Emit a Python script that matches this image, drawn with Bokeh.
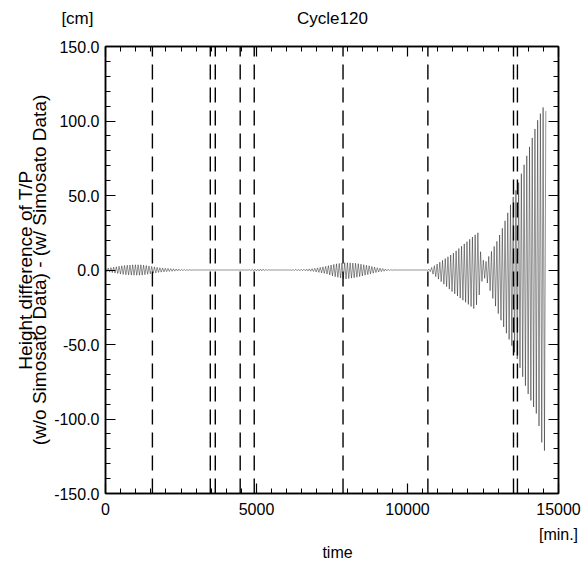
import numpy as np
from bokeh.plotting import figure
from bokeh.layouts import column
from bokeh.models import (Range1d, LinearAxis, FixedTicker, NumeralTickFormatter,
                          ColumnDataSource)
from bokeh.core.properties import value
from bokeh.embed import file_html
from bokeh.resources import INLINE

# ---- data ----
title_text = "Cycle120"
y_unit_text = "[cm]"
x_unit_text = "[min.]"
x_title = "time"
y_title_1 = "Height difference of T/P"
y_title_2 = "(w/o Simosato Data) - (w/ Simosato Data)"
x_ticks = [0, 5000, 10000, 15000]
y_ticks = [-150, -100, -50, 0, 50, 100, 150]

# times (min.) of the dashed vertical markers
marker_times = [1553, 3470, 3635, 4460, 4925, 7865, 10675, 13510, 13640]

# oscillation envelope knots: time, upper amplitude, lower amplitude (cm)
env_t = [0, 300, 600, 900, 1200, 1500, 1800, 2100, 2500, 2900,
         4700, 4900, 5200, 5500, 6100, 6300, 6600, 6900, 7300, 7600,
         7950, 8300, 8700, 9000, 9300, 9600,
         10650, 10750, 11500, 12200, 12330, 12450, 12580, 12980, 13180,
         13480, 13640, 13970, 14300, 14480, 14570, 14600]
env_up = [1.0, 2.0, 3.0, 3.5, 3.5, 2.5, 1.5, 1.0, 0.5, 0.0,
          0.0, 0.6, 0.6, 0.0, 0.0, 0.5, 0.5, 1.0, 2.5, 4.0,
          5.0, 4.5, 3.0, 1.5, 0.6, 0.0,
          0.0, 1.0, 11.0, 23.0, 25.0, 8.0, 5.0, 20.0, 30.0,
          48.0, 56.0, 78.0, 100.0, 109.0, 110.0, 100.0]
env_lo = [1.0, 2.0, 3.0, 3.5, 3.5, 2.5, 1.5, 1.0, 0.5, 0.0,
          0.0, 0.6, 0.6, 0.0, 0.0, 0.5, 0.5, 1.0, 2.5, 4.5,
          6.0, 5.0, 3.0, 1.5, 0.6, 0.0,
          0.0, 1.0, 15.0, 26.0, 22.0, 8.0, 5.0, 28.0, 38.0,
          52.0, 60.0, 82.0, 98.0, 120.0, 122.0, 110.0]
half_period = 45  # min., spacing of successive oscillation extremes
t_end = 14600

# ---- build oscillating trace from the envelope ----
tk = np.arange(0, t_end + 1, half_period)
up = np.interp(tk, env_t, env_up)
lo = np.interp(tk, env_t, env_lo)
vals = np.where(np.arange(len(tk)) % 2 == 0, up, -lo)
src = ColumnDataSource(dict(t=tk, v=vals))

FONT = "Liberation Sans"
W = 583
HEAD_H = 36
FOOT_H = 26
MAIN_H = 571 - HEAD_H - FOOT_H          # 509
FRAME_L, FRAME_R = 105, 558             # frame edges in page pixels


def bare_axis(ax):
    ax.major_tick_in = 0
    ax.major_tick_out = 0
    ax.minor_tick_in = 0
    ax.minor_tick_out = 0
    ax.axis_line_color = None
    ax.major_label_text_font = FONT
    ax.major_label_text_color = "black"


def text_strip(h):
    f = figure(width=W, height=h, output_backend="svg", toolbar_location=None,
               x_range=Range1d(FRAME_L, FRAME_R), y_range=Range1d(h, 0),
               min_border_left=FRAME_L, min_border_right=W - FRAME_R,
               min_border_top=0, min_border_bottom=0,
               x_axis_location=None, y_axis_location=None)
    f.grid.visible = False
    f.outline_line_color = None
    f.background_fill_color = "white"
    f.border_fill_color = "white"
    return f


# ---- header: "[cm]" (left of the frame) and the title ----
head = text_strip(HEAD_H)
hl = LinearAxis()
bare_axis(hl)
hl.ticker = FixedTicker(ticks=[18], minor_ticks=[])
hl.major_label_overrides = {18: y_unit_text}
hl.major_label_text_font_size = "17px"
hl.major_label_standoff = 12
head.add_layout(hl, "left")
head.text(x=[332], y=[18], text=[title_text],
          text_font=value(FONT), text_font_size="17px", text_color="black",
          text_align="center", text_baseline="middle")

# ---- main plot ----
p = figure(width=W, height=MAIN_H, output_backend="svg", toolbar_location=None,
           x_range=Range1d(0, 15000), y_range=Range1d(-150, 150),
           min_border_left=FRAME_L, min_border_right=W - FRAME_R,
           min_border_top=46 - HEAD_H, min_border_bottom=MAIN_H + HEAD_H - 494,
           x_axis_location=None, y_axis_location=None)
p.grid.visible = False
p.outline_line_color = "black"
p.outline_line_width = 1.5
p.background_fill_color = "white"
p.border_fill_color = "white"


def style_axis(ax, ticks, minor, fmt, show_labels):
    ax.ticker = FixedTicker(ticks=ticks, minor_ticks=minor)
    ax.formatter = NumeralTickFormatter(format=fmt)
    ax.major_tick_in = 10
    ax.major_tick_out = 0
    ax.minor_tick_in = 5
    ax.minor_tick_out = 0
    ax.axis_line_width = 1.5
    ax.major_tick_line_width = 1.2
    ax.minor_tick_line_width = 1
    ax.major_label_text_font = FONT
    if show_labels:
        ax.major_label_text_font_size = "16px"
        ax.major_label_text_color = "black"
    else:
        ax.major_label_text_font_size = "1px"
        ax.major_label_text_color = None
        ax.major_label_standoff = 0


x_minor = list(range(0, 15001, 500))
y_minor = list(range(-150, 151, 10))

bx = LinearAxis(); style_axis(bx, x_ticks, x_minor, "0", True); bx.major_label_standoff = 9
tx = LinearAxis(); style_axis(tx, x_ticks, x_minor, "0", False)
ly = LinearAxis(); style_axis(ly, y_ticks, y_minor, "0.0", True); ly.major_label_standoff = 6
ry = LinearAxis(); style_axis(ry, y_ticks, y_minor, "0.0", False)
p.add_layout(bx, "below")
p.add_layout(tx, "above")
p.add_layout(ly, "left")
p.add_layout(ry, "right")

# "[min.]" unit label under the last x tick
bu = LinearAxis()
bare_axis(bu)
bu.ticker = FixedTicker(ticks=[15000], minor_ticks=[])
bu.major_label_overrides = {15000: x_unit_text}
bu.major_label_text_font_size = "16px"
bu.major_label_standoff = 8
p.add_layout(bu, "below")

# two rotated lines of the y title (inner line first)
for txt, so in ((y_title_2, 2), (y_title_1, -10)):
    a = LinearAxis()
    bare_axis(a)
    a.ticker = FixedTicker(ticks=[], minor_ticks=[])
    a.major_label_standoff = 0
    a.major_label_text_font_size = "1px"
    a.major_label_text_color = None
    a.axis_label = txt
    a.axis_label_text_font = FONT
    a.axis_label_text_font_style = "normal"
    a.axis_label_text_font_size = "19px"
    a.axis_label_text_color = "black"
    a.axis_label_standoff = so
    p.add_layout(a, "left")

# dashed markers
p.segment(x0=marker_times, x1=marker_times,
          y0=[-150] * len(marker_times), y1=[150] * len(marker_times),
          line_color="black", line_width=1.4, line_dash="15 8")

# trace
p.line("t", "v", source=src, line_color="black", line_width=0.5, line_alpha=0.85)

# ---- footer: "time" ----
foot = text_strip(FOOT_H)
foot.text(x=[337], y=[7], text=[x_title], text_font=value(FONT),
          text_font_size="16px", text_color="black",
          text_align="center", text_baseline="middle")

layout = column(head, p, foot, spacing=0)
open("out.html", "w").write(file_html(layout, INLINE))
